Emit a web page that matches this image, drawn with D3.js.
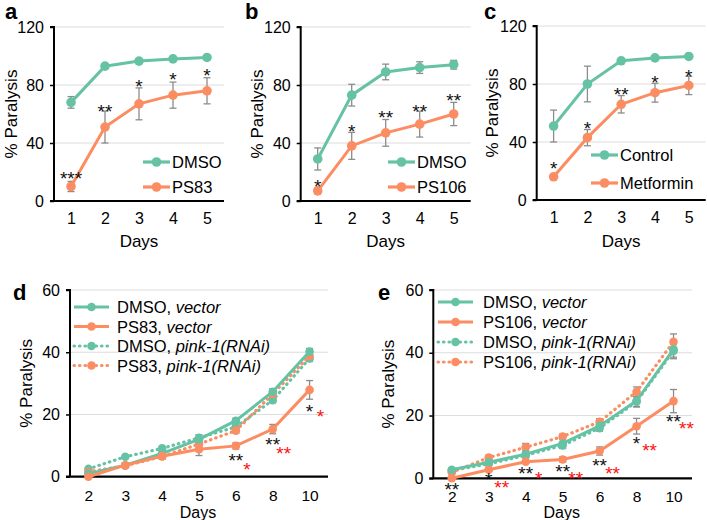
<!DOCTYPE html>
<html><head><meta charset="utf-8">
<script src="https://cdn.jsdelivr.net/npm/d3@7/dist/d3.min.js"></script>
<style>body{margin:0;background:#fff}svg{display:block;font-family:"Liberation Sans",Arial,sans-serif}</style>
</head><body><svg id="c" width="707" height="520"></svg>
<script>
// ---------- DATA ----------
const daysTop = [1, 2, 3, 4, 5];
const daysBottom = [2, 3, 4, 5, 6, 8, 10];
const yTicksTop = [0, 40, 80, 120];
const yTicksBottom = [0, 20, 40, 60];

// Panel a
const aDMSO = [68, 93, 96.5, 98, 99];
const aDMSOerr = [4, 1, 1, 1, 1];
const aPS83 = [10, 51, 67, 73, 76];
const aPS83err = [3.5, 11, 11, 9, 9];
const aStars = ["***", "**", "*", "*", "*"];
const aStarY = [18.6, 65, 82, 87, 89.7];
// Panel b
const bDMSO = [29, 73, 89, 92, 94];
const bDMSOerr = [7.6, 7.5, 5.4, 4, 3];
const bPS106 = [7, 38, 47, 53, 60];
const bPS106err = [2, 9.3, 9.2, 8.9, 8];
const bStars = ["*", "*", "**", "**", "**"];
const bStarY = [13.3, 51.2, 60.5, 65, 72.6];
// Panel c
const cControl = [51, 80, 96, 98, 99];
const cControlErr = [11, 12.3, 1, 1, 1];
const cMetformin = [16, 43, 66, 74, 79];
const cMetforminErr = [1, 5.6, 6, 6.5, 6.3];
const cStars = ["*", "*", "**", "*", "*"];
const cStarY = [24.6, 52.4, 75.9, 83.9, 88.5];
// Panel d
const dDMSOvec = [1, 3.7, 7.5, 12, 18, 27.3, 40.2];
const dDMSOvecErr = [0.5, 0.5, 0.8, 1, 0.8, 1, 1];
const dPS83vec = [0, 3.7, 6.6, 8.8, 9.9, 15.3, 27.9];
const dPS83vecErr = [0.5, 0.8, 1, 2, 1, 1.5, 3];
const dDMSOpink = [2.5, 6.4, 9.1, 12.5, 16, 24.6, 38];
const dDMSOpinkErr = [0.5, 0.5, 0.5, 1, 0.8, 0.8, 1];
const dPS83pink = [1.6, 3.5, 6.5, 10.5, 14.8, 26.6, 38.8];
const dPS83pinkErr = [0.5, 0.5, 0.5, 1, 0.8, 1, 1];
const dStarDays = [6, 6, 8, 8, 10, 10];
const dStarText = ["**", "*", "**", "**", "*", "*"];
const dStarColor = ["black", "red", "black", "red", "black", "red"];
const dStarY = [6.7, 3.8, 11.6, 9, 22.5, 20.6];
// Panel e
const eDMSOvec = [2.7, 5.1, 7.7, 11.1, 16.7, 24.7, 41.1];
const eDMSOvecErr = [0.5, 0.8, 1, 1.5, 1.2, 2, 3];
const ePS106vec = [0, 2.7, 5.3, 6, 8.7, 16.6, 24.6];
const ePS106vecErr = [0.3, 0.5, 0.5, 0.8, 1.3, 2.5, 3.7];
const eDMSOpink = [2.5, 4.6, 7.3, 10.5, 16, 24.4, 40.6];
const eDMSOpinkErr = [0.5, 0.5, 0.8, 1, 1, 1.5, 2];
const ePS106pink = [1.9, 6.6, 9.9, 13.3, 18, 27.6, 43.5];
const ePS106pinkErr = [0.5, 0.8, 1.2, 0.8, 1, 1.5, 2.5];
const eStarDays = [2, 3, 3, 4, 4, 5, 5, 6, 6, 8, 8, 10, 10];
const eStarText = ["**", "*", "**", "**", "*", "**", "**", "**", "**", "*", "**", "**", "**"];
const eStarColor = ["black", "black", "red", "black", "red", "black", "red", "black", "red", "black", "red", "black", "red"];
const eStarY = [-2.1, 1.05, -1.6, 2.9, 1.3, 3.5, 1.4, 5.3, 2.9, 12.4, 10.3, 19.6, 17.2];

// ---------- STYLE ----------
const GREEN = "#66c2a5", ORANGE = "#fc8d62", ERR = "#8c8c8c";
const svg = d3.select("#c");
const STAR_FS = 19;

function panel(cfg) {
  const g = svg.append("g");
  const x = d3.scalePoint().domain(cfg.days).range([cfg.left, cfg.right]).padding(0.5);
  const y = d3.scaleLinear().domain([0, cfg.ymax]).range([cfg.bottom, cfg.top]);
  // grid
  g.selectAll(".grid").data(cfg.yTicks.filter(t => t > 0)).join("line")
    .attr("x1", cfg.left).attr("x2", cfg.right)
    .attr("y1", d => y(d)).attr("y2", d => y(d))
    .attr("stroke", "#dcdcdc").attr("stroke-width", 1);
  // y axis
  const ya = g.append("g").attr("transform", `translate(${cfg.left},0)`)
    .call(d3.axisLeft(y).tickValues(cfg.yTicks).tickSize(4).tickPadding(6));
  ya.select(".domain").attr("stroke", "#000").attr("stroke-width", 2).attr("d", `M-4,${cfg.top}H0V${cfg.bottom}`);
  ya.selectAll(".tick line").attr("stroke", "#000").attr("stroke-width", 1.5);
  ya.selectAll("text").attr("font-size", 16).attr("fill", "#000").attr("font-family", "Liberation Sans, Arial, sans-serif");
  // x axis
  const xa = g.append("g").attr("transform", `translate(0,${cfg.bottom})`)
    .call(d3.axisBottom(x).tickSize(0).tickPadding(cfg.xPad));
  xa.select(".domain").attr("stroke", "#000").attr("stroke-width", 2.2).attr("d", `M${cfg.left - 4},0H${cfg.right}`);
  xa.selectAll("text").attr("font-size", cfg.xfs).attr("fill", "#000").attr("font-family", "Liberation Sans, Arial, sans-serif");
  // labels
  g.append("text").attr("transform", `translate(${cfg.ylabX},${(cfg.top + cfg.bottom) / 2}) rotate(-90)`)
    .attr("text-anchor", "middle").attr("font-size", 17).text("% Paralysis");
  g.append("text").attr("x", (cfg.left + cfg.right) / 2 + cfg.daysDx).attr("y", cfg.daysY)
    .attr("text-anchor", "middle").attr("font-size", cfg.daysFs).text("Days");
  g.append("text").attr("x", cfg.letterX).attr("y", cfg.letterY)
    .attr("font-size", 22).attr("font-weight", "bold").text(cfg.letter);
  // error bars
  cfg.series.forEach(s => {
    const pts = cfg.days.map((d, i) => ({ d, v: s.values[i], e: s.err[i] }));
    const eg = g.append("g");
    pts.forEach(p => {
      const cx = x(p.d);
      eg.append("line").attr("x1", cx).attr("x2", cx).attr("y1", y(p.v - p.e)).attr("y2", y(p.v + p.e))
        .attr("stroke", ERR).attr("stroke-width", 1.3);
      [p.v - p.e, p.v + p.e].forEach(v => eg.append("line").attr("x1", cx - 3.5).attr("x2", cx + 3.5)
        .attr("y1", y(v)).attr("y2", y(v)).attr("stroke", ERR).attr("stroke-width", 1.3));
    });
  });
  // lines + markers
  cfg.series.forEach(s => {
    const pts = cfg.days.map((d, i) => ({ d, v: s.values[i] }));
    g.append("path").datum(pts)
      .attr("d", d3.line().x(p => x(p.d)).y(p => y(p.v)))
      .attr("fill", "none").attr("stroke", s.color).attr("stroke-width", s.dotted ? 3.2 : s.width)
      .attr("stroke-dasharray", s.dotted ? "0.5,5" : null).attr("stroke-linecap", s.dotted ? "round" : "butt");
    g.selectAll(null).data(pts).join("circle")
      .attr("cx", p => x(p.d)).attr("cy", p => y(p.v)).attr("r", cfg.r).attr("fill", s.color);
  });
  // stars
  cfg.stars.forEach(st => {
    g.append("text").attr("x", x(st.day) + (st.color === "red" ? cfg.redDx : 0)).attr("y", y(st.y) + 0.57 * STAR_FS)
      .attr("text-anchor", "middle").attr("font-size", STAR_FS).attr("fill", st.color === "red" ? "#ff1010" : "#111")
      .text(st.text);
  });
  // legend
  cfg.legend.items.forEach((it, i) => {
    const ly = cfg.legend.y + i * cfg.legend.dy;
    g.append("line").attr("x1", cfg.legend.x).attr("x2", cfg.legend.x + cfg.legend.len)
      .attr("y1", ly).attr("y2", ly).attr("stroke", it.color).attr("stroke-width", 3.2)
      .attr("stroke-dasharray", it.dotted ? "0.5,5" : null).attr("stroke-linecap", it.dotted ? "round" : "butt");
    g.append("circle").attr("cx", cfg.legend.x + cfg.legend.len / 2).attr("cy", ly).attr("r", cfg.r).attr("fill", it.color);
    const t = g.append("text").attr("x", cfg.legend.x + cfg.legend.len + cfg.legend.gap).attr("y", ly + 6).attr("font-size", 16.5);
    t.append("tspan").text(it.label);
    if (it.ital) t.append("tspan").attr("font-style", "italic").text(it.ital);
  });
}

function stars(days, vals, texts, colors) {
  return days.map((d, i) => ({ day: d, y: vals[i], text: texts[i], color: colors ? colors[i] : "black" }));
}

panel({ letter: "a", letterX: 5, letterY: 19, days: daysTop, yTicks: yTicksTop, ymax: 120, xfs: 16, daysFs: 17,
  left: 54, right: 224, top: 27, bottom: 201, xPad: 12, ylabX: 17, daysY: 247, daysDx: 0, r: 4.8, redDx: 0,
  series: [{ values: aDMSO, err: aDMSOerr, color: GREEN, width: 3 }, { values: aPS83, err: aPS83err, color: ORANGE, width: 3 }],
  stars: stars(daysTop, aStarY, aStars),
  legend: { x: 143, y: 162, dy: 25, len: 27, gap: 2, items: [{ label: "DMSO", color: GREEN }, { label: "PS83", color: ORANGE }] } });

panel({ letter: "b", letterX: 245, letterY: 19, days: daysTop, yTicks: yTicksTop, ymax: 120, xfs: 16, daysFs: 17,
  left: 300.7, right: 470.7, top: 27, bottom: 201, xPad: 12, ylabX: 263, daysY: 247, daysDx: 0, r: 4.8, redDx: 0,
  series: [{ values: bDMSO, err: bDMSOerr, color: GREEN, width: 3 }, { values: bPS106, err: bPS106err, color: ORANGE, width: 3 }],
  stars: stars(daysTop, bStarY, bStars),
  legend: { x: 388, y: 162, dy: 25, len: 27, gap: 2, items: [{ label: "DMSO", color: GREEN }, { label: "PS106", color: ORANGE }] } });

panel({ letter: "c", letterX: 484, letterY: 19, days: daysTop, yTicks: yTicksTop, ymax: 120, xfs: 16, daysFs: 17,
  left: 536.7, right: 705.7, top: 26, bottom: 200, xPad: 12, ylabX: 498, daysY: 247, daysDx: 0, r: 4.8, redDx: 0,
  series: [{ values: cControl, err: cControlErr, color: GREEN, width: 3 }, { values: cMetformin, err: cMetforminErr, color: ORANGE, width: 3 }],
  stars: stars(daysTop, cStarY, cStars),
  legend: { x: 591, y: 155, dy: 28, len: 27, gap: 2, items: [{ label: "Control", color: GREEN }, { label: "Metformin", color: ORANGE }] } });

panel({ letter: "d", letterX: 13, letterY: 300, days: daysBottom, yTicks: yTicksBottom, ymax: 60, xfs: 15.5, daysFs: 16,
  left: 70, right: 328, top: 290, bottom: 476.7, xPad: 13, ylabX: 32, daysY: 518, daysDx: -1, r: 4.3, redDx: 11,
  series: [
    { values: dDMSOpink, err: dDMSOpinkErr, color: GREEN, width: 3, dotted: true },
    { values: dPS83pink, err: dPS83pinkErr, color: ORANGE, width: 3, dotted: true },
    { values: dDMSOvec, err: dDMSOvecErr, color: GREEN, width: 3 },
    { values: dPS83vec, err: dPS83vecErr, color: ORANGE, width: 3 }],
  stars: stars(dStarDays, dStarY, dStarText, dStarColor),
  legend: { x: 74, y: 307, dy: 19.5, len: 35, gap: 8, items: [
    { label: "DMSO, ", ital: "vector", color: GREEN }, { label: "PS83, ", ital: "vector", color: ORANGE },
    { label: "DMSO, ", ital: "pink-1(RNAi)", color: GREEN, dotted: true }, { label: "PS83, ", ital: "pink-1(RNAi)", color: ORANGE, dotted: true }] } });

panel({ letter: "e", letterX: 378, letterY: 300, days: daysBottom, yTicks: yTicksBottom, ymax: 60, xfs: 15.5, daysFs: 16,
  left: 433.3, right: 692, top: 290, bottom: 478.3, xPad: 13, ylabX: 394, daysY: 518, daysDx: -1, r: 4.3, redDx: 13,
  series: [
    { values: eDMSOpink, err: eDMSOpinkErr, color: GREEN, width: 3, dotted: true },
    { values: ePS106pink, err: ePS106pinkErr, color: ORANGE, width: 3, dotted: true },
    { values: eDMSOvec, err: eDMSOvecErr, color: GREEN, width: 3 },
    { values: ePS106vec, err: ePS106vecErr, color: ORANGE, width: 3 }],
  stars: stars(eStarDays, eStarY, eStarText, eStarColor),
  legend: { x: 438, y: 302, dy: 20, len: 35, gap: 10, items: [
    { label: "DMSO, ", ital: "vector", color: GREEN }, { label: "PS106, ", ital: "vector", color: ORANGE },
    { label: "DMSO, ", ital: "pink-1(RNAi)", color: GREEN, dotted: true }, { label: "PS106, ", ital: "pink-1(RNAi)", color: ORANGE, dotted: true }] } });
</script></body></html>
